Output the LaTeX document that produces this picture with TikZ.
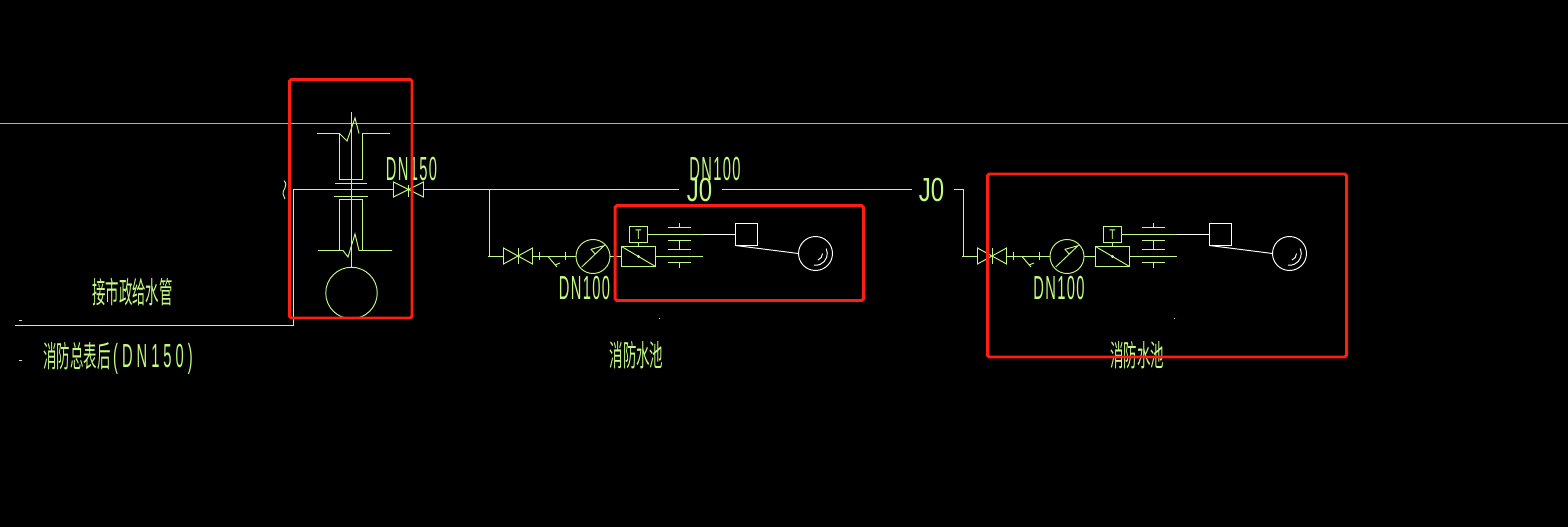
\documentclass[tikz,border=0pt]{standalone}
\usepackage{fontspec}
\usepackage{xcolor}
\newfontfamily\cjkcad[FakeStretch=0.45]{Noto Sans CJK SC}
\newfontfamily\dncad[FakeStretch=0.44,LetterSpace=4]{Liberation Sans}
\newfontfamily\dnwide[FakeStretch=0.44,LetterSpace=12]{Liberation Sans}
\newfontfamily\jcad[FakeStretch=0.72]{Liberation Sans}
\definecolor{cadgreen}{RGB}{195,250,130}
\definecolor{cadgrid}{RGB}{140,190,170}
\definecolor{markred}{RGB}{255,30,20}
\tikzset{
    pipe/.style={cadgreen, line width=0.55pt},
    whitepipe/.style={white, line width=0.55pt},
    markbox/.style={markred, line width=1.7pt, rounded corners=1pt},
    cjklabel/.style={cadgreen, inner sep=0pt, font=\cjkcad\fontsize{17}{17}\selectfont},
    dnlabel/.style={cadgreen, inner sep=0pt, font=\dncad\fontsize{19}{19}\selectfont},
    jlabel/.style={cadgreen, inner sep=0pt, font=\jcad\fontsize{19}{19}\selectfont},
    tbox/.style={draw=cadgreen, line width=0.55pt, minimum width=0.36cm, minimum height=0.32cm, inner sep=0pt, outer sep=0pt, text=cadgreen, font=\jcad\fontsize{8}{8}\selectfont},
    mixbox/.style={draw=cadgreen, line width=0.55pt, minimum width=0.68cm, minimum height=0.4cm, inner sep=0pt, outer sep=0pt},
    gauge/.style={draw=cadgreen, line width=0.55pt, circle, minimum size=0.68cm, inner sep=0pt, outer sep=0pt},
    floatbox/.style={draw=white, line width=0.55pt, minimum width=0.44cm, minimum height=0.44cm, inner sep=0pt, outer sep=0pt},
    floatball/.style={draw=white, line width=0.55pt, circle, minimum size=0.68cm, inner sep=0pt, outer sep=0pt}
}
\begin{document}
\begin{tikzpicture}[x=0.02cm, y=-0.02cm]
    \path[fill=black, use as bounding box] (0,0) rectangle (1568,527);
    \draw[cadgrid, line width=0.55pt] (0,123.5) -- (1568,123.5);

    % wall crossing
    \draw[pipe] (317,133.5) -- (339.5,133.5) -- (339.5,179.5) -- (362.5,179.5) -- (362.5,133.5) -- (390,133.5);
    \draw[pipe] (339.5,133.5) -- (347,141) -- (355,118) -- (359,133.5);
    \draw[pipe] (318,250.5) -- (343,250.5) -- (348,257) -- (355,234) -- (359,250.5) -- (392,250.5);
    \draw[pipe] (339.5,250.5) -- (339.5,199.5) -- (362.5,199.5) -- (362.5,250.5);
    \draw[pipe] (335,183.5) -- (367,183.5);
    \draw[pipe] (334,196.5) -- (368,196.5);
    \node[draw=cadgreen, line width=0.55pt, circle, minimum size=1.03cm, inner sep=0pt, outer sep=0pt] (meter) at (351.5,293) {};
    \coordinate (risertop) at (351.5,112);
    \draw[pipe] (risertop) -- (meter.north);

    % main pipe
    \coordinate (inletend) at (15,325.5);
    \coordinate (inletcorner) at (293.5,325.5);
    \coordinate (inlettee) at (293.5,189.5);
    \coordinate (valvein) at (393.5,189.5);
    \coordinate (valveout) at (423.5,189.5);
    \coordinate (breakone) at (679,189.5);
    \coordinate (breaktwo) at (722,189.5);
    \coordinate (breakthree) at (912,189.5);
    \coordinate (breakfour) at (954,189.5);
    \coordinate (teeone) at (489.5,189.5);
    \coordinate (teetwo) at (963.5,189.5);
    \draw[pipe] (inletend) -- (inletcorner) -- (inlettee) -- (valvein);
    \draw[pipe] (393.5,182) -- (393.5,197) -- (423.5,182) -- (423.5,197) -- cycle;
    \draw[pipe] (408.5,185) -- (408.5,197);
    \draw[pipe] (valveout) -- (breakone);
    \draw[pipe] (breaktwo) -- (breakthree);
    \draw[pipe] (breakfour) -- (teetwo);
    \draw[pipe] (284,180.7) .. controls (289,186) and (282,190) .. (283,194) -- (285,199);

    % two tank branches
    \foreach \ox/\n in {0/a,474/b}{
        \begin{scope}[shift={(\ox,0)}]
            \coordinate (foot\n) at (489.5,256.5);
            \coordinate (valve\n) at (503.5,256.5);
            \coordinate (valveout\n) at (532.5,256.5);
            \coordinate (split\n) at (703,234.5);
            \coordinate (outend\n) at (703,256.5);
            \draw[pipe] (488,256.5) -- (valve\n);
            \draw[pipe] (503.5,248) -- (503.5,264) -- (532.5,248) -- (532.5,264) -- cycle;
            \draw[pipe] (518.5,248) -- (518.5,264);
            \node[gauge] (gauge\n) at (593,256.5) {};
            \node[mixbox] (mix\n) at (638.5,256.5) {};
            \node[tbox] (tbox\n) at (638.5,234.5) {T};
            \node[floatbox] (float\n) at (746.5,234.5) {};
            \node[floatball] (ball\n) at (815.5,253.5) {};
            \draw[pipe] (valveout\n) -- (gauge\n.west);
            \draw[pipe] (gauge\n.east) -- (mix\n.west);
            \draw[pipe] (mix\n.east) -- (outend\n);
            \draw[pipe] (tbox\n.south) -- (mix\n.north);
            \draw[pipe] (tbox\n.east) -- (split\n);
            \draw[whitepipe] (split\n) -- (float\n.west);
            \draw[whitepipe] (float\n.south west) -- (ball\n.west);
            % strainer and ticks
            \draw[pipe] (539.5,252) -- (539.5,260);
            \draw[pipe] (565.5,252) -- (565.5,260);
            \draw[pipe] (548,256.5) -- (557,267);
            \draw[pipe] (555,265) -- (560,263);
            % gauge needle
            \draw[pipe] (581.7,267) -- (604,245.7) -- (591,249.3) -- (595,254);
            % mixer diagonal
            \draw[pipe] (mix\n.north west) -- (mix\n.south east);
            \fill[cadgreen] (mix\n.center) circle[radius=1.6];
            % tank wall
            \foreach \y in {227.5,240.5,249.5,262.5} \draw[pipe] (668,\y) -- (691,\y);
            \draw[pipe] (679.5,223) -- (679.5,227.5);
            \draw[pipe] (679.5,240.5) -- (679.5,249.5);
            \draw[pipe] (679.5,262.5) -- (679.5,268);
            % ball arcs
            \draw[whitepipe] (ball\n.center) ++(-25:11.8) arc[start angle=-25, end angle=97, radius=11.8];
            \draw[whitepipe] (ball\n.center) ++(0:7) arc[start angle=0, end angle=70, radius=7];
        \end{scope}
    }
    \draw[pipe] (teeone) -- (foota);
    \draw[pipe] (teetwo) -- (footb);

    % labels
    \node[dnlabel] (dnmain) at (411.5,169) {DN150};
    \node[dnlabel] (dntop) at (715,169) {DN100};
    \node[jlabel] (jone) at (699.5,190.5) {J0};
    \node[jlabel] (jtwo) at (931.5,190.5) {J0};
    \node[dnlabel] (dna) at (584.5,288) {DN100};
    \node[dnlabel] (dnb) at (1059,288) {DN100};
    \node[cjklabel] (inletlabel) at (132.5,292) {接市政给水管};
    \node[cjklabel, anchor=west] (meterlabel) at (43,358.5) {消防总表后\kern1.5pt{\dnwide\fontsize{19}{19}\selectfont(DN150)}};
    \node[cjklabel] (tanka) at (636.5,355) {消防水池};
    \node[cjklabel] (tankb) at (1137,355) {消防水池};

    % stray marks
    \draw[pipe] (19,320.5) -- (22,320.5);
    \draw[pipe] (19,360.5) -- (22,360.5);
    \draw[pipe] (659,318.5) -- (660,318.5);
    \draw[pipe] (1174,318.5) -- (1175,318.5);

    % red marks
    \draw[markbox] (289.5,79.5) rectangle (412,318);
    \draw[markbox] (615,205.7) rectangle (863.5,300.5);
    \draw[markbox] (987.5,174) rectangle (1346.5,357);
\end{tikzpicture}
\end{document}
